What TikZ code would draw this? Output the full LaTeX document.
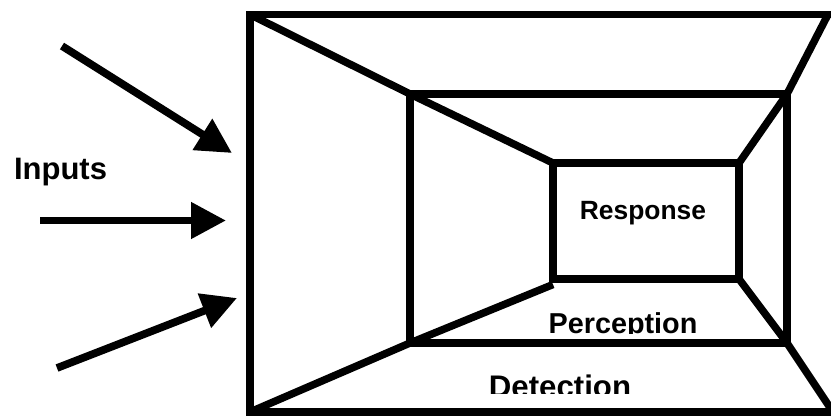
\documentclass[tikz,border=0pt]{standalone}
\usepackage{fontspec}
\setmainfont{Liberation Sans}
\usetikzlibrary{arrows.meta}
\tikzset{
  frame/.style={line width=7.5pt, line join=miter, line cap=butt},
  inarrow/.style={line width=7.7pt, -{Triangle[length=35pt,width=35pt]}},
  lbl/.style={anchor=base, inner sep=0pt, font=\bfseries},
}
\begin{document}
\begin{tikzpicture}[x=1pt,y=-1pt]
\useasboundingbox (0,0) rectangle (831,416);
\begin{scope}
\clip (0,0) rectangle (831,416);
% corners
\coordinate (OTL) at (250,14.5);
\coordinate (OBL) at (250,412);
\coordinate (OTR) at (828,14.5);
\coordinate (OBR) at (833,412);
\coordinate (MTL) at (410,94);
\coordinate (MTR) at (787,94);
\coordinate (MBL) at (410,343);
\coordinate (MBR) at (787,343);
\coordinate (ITL) at (553,163);
\coordinate (ITR) at (739,163);
\coordinate (IBL) at (553,279);
\coordinate (IBR) at (739,279);
\coordinate (IBLd) at (553,284.5);
% outer frame (right side beyond the picture)
\draw[frame] (845,14.5) -- (OTL) -- (OBL) -- (845,412);
% middle and inner rectangles
\draw[frame] (MTL) rectangle (MBR);
\draw[frame] (ITL) rectangle (IBR);
% diagonals
\draw[frame] (OTL) -- (MTL) -- (ITL);
\draw[frame] (OBL) -- (MBL) -- (IBLd);
\draw[frame] (OTR) -- (MTR) -- (ITR);
\draw[frame] (IBR) -- (MBR) -- (OBR);
\end{scope}
% arrows
\coordinate (a1s) at (62,46);
\coordinate (a1t) at (232,153);
\coordinate (a2s) at (40,220.5);
\coordinate (a2t) at (226,220.5);
\coordinate (a3s) at (57,368);
\coordinate (a3t) at (237,298);
\draw[inarrow] (a1s) -- (a1t);
\draw[inarrow] (a2s) -- (a2t);
\draw[inarrow] (a3s) -- (a3t);
% labels
\node[lbl, font=\bfseries\fontsize{31}{31}\selectfont] (inputs) at (60.5,179) {Inputs};
\node[lbl, font=\bfseries\fontsize{26.4}{26.4}\selectfont] (response) at (643,219) {Response};
\begin{scope}
\clip (530,300) rectangle (720,333);
\node[lbl, font=\bfseries\fontsize{28.8}{28.8}\selectfont] (perception) at (623,333.5) {Perception};
\end{scope}
\begin{scope}
\clip (470,360) rectangle (650,393);
\node[lbl, font=\bfseries\fontsize{31.2}{31.2}\selectfont] (detection) at (560,397.5) {Detection};
\end{scope}
\end{tikzpicture}
\end{document}
